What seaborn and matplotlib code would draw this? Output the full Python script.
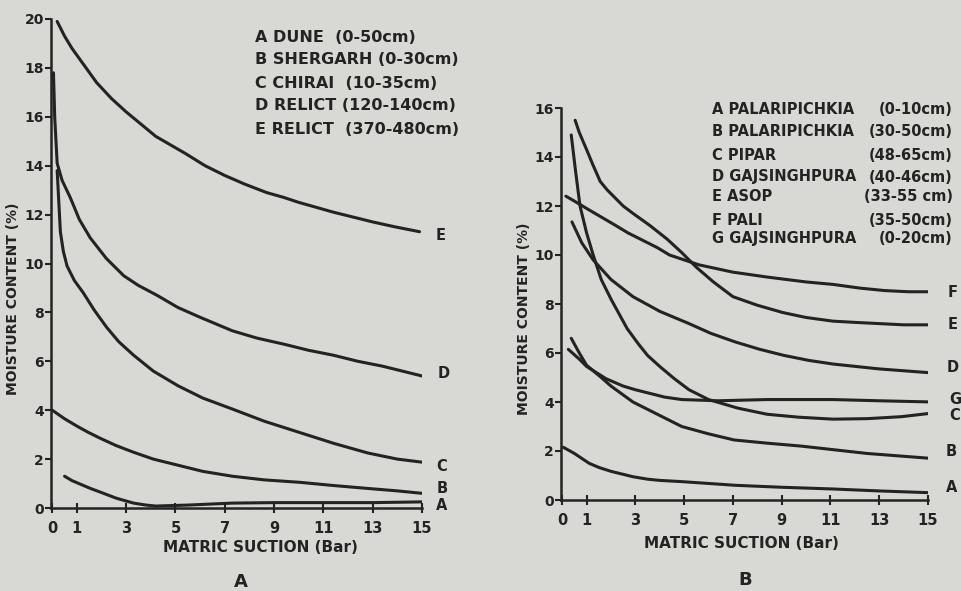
import numpy as np
import pandas as pd
import matplotlib
matplotlib.use("Agg")
import matplotlib.pyplot as plt
import seaborn as sns

# ---------------- data ----------------
# Panel A
A_E_x = [0.2, 0.5, 0.8, 1.3, 1.8, 2.4, 3.0, 3.6, 4.2, 5.4, 6.2, 7.0, 7.8, 8.7, 9.4, 10.0, 11.4, 12.2, 13.0, 13.9, 14.9]
A_E_y = [19.9, 19.3, 18.8, 18.1, 17.4, 16.75, 16.2, 15.7, 15.2, 14.5, 14.0, 13.6, 13.25, 12.9, 12.7, 12.5, 12.1, 11.9, 11.7, 11.5, 11.3]
A_D_x = [0.05, 0.1, 0.2, 0.4, 0.73, 1.1, 1.54, 2.2, 2.9, 3.5, 4.25, 5.1, 6.0, 7.3, 8.3, 9.4, 10.4, 11.4, 12.4, 13.4, 14.2, 15.0]
A_D_y = [17.8, 16.0, 14.1, 13.4, 12.7, 11.8, 11.05, 10.2, 9.5, 9.1, 8.7, 8.2, 7.8, 7.25, 6.95, 6.7, 6.45, 6.25, 6.0, 5.8, 5.6, 5.4]
A_C_x = [0.2, 0.33, 0.45, 0.6, 0.9, 1.26, 1.7, 2.2, 2.7, 3.3, 4.1, 5.1, 6.1, 7.3, 8.6, 10.0, 11.4, 12.8, 14.0, 15.2]
A_C_y = [13.8, 11.3, 10.5, 9.9, 9.3, 8.8, 8.1, 7.4, 6.8, 6.25, 5.6, 5.0, 4.5, 4.05, 3.55, 3.1, 2.65, 2.25, 2.0, 1.85]
A_B_x = [0.0, 0.5, 1.0, 1.45, 1.95, 2.6, 3.3, 4.1, 5.1, 6.1, 7.3, 8.6, 10.05, 11.4, 12.8, 14.0, 15.0]
A_B_y = [4.0, 3.65, 3.35, 3.1, 2.85, 2.55, 2.28, 2.0, 1.75, 1.5, 1.3, 1.15, 1.05, 0.92, 0.8, 0.7, 0.6]
A_A_x = [0.5, 0.8, 1.2, 1.55, 1.95, 2.6, 3.3, 3.8, 4.2, 5.5, 7.3, 9.0, 11.0, 13.0, 15.0]
A_A_y = [1.3, 1.12, 0.95, 0.8, 0.65, 0.4, 0.2, 0.12, 0.08, 0.12, 0.2, 0.22, 0.22, 0.22, 0.25]

# Panel B
B_F_x = [0.15, 0.5, 1.0, 1.6, 2.2, 2.7, 3.3, 3.9, 4.4, 5.0, 5.6, 6.3, 7.0, 7.7, 8.4, 9.2, 10.0, 11.1, 12.2, 13.2, 14.2, 15.2]
B_F_y = [12.4, 12.2, 11.9, 11.55, 11.2, 10.9, 10.6, 10.3, 10.0, 9.8, 9.6, 9.45, 9.3, 9.2, 9.1, 9.0, 8.9, 8.8, 8.65, 8.55, 8.5, 8.5]
B_E_x = [0.53, 0.7, 1.0, 1.25, 1.56, 1.85, 2.2, 2.5, 2.9, 3.6, 4.3, 4.9, 5.5, 6.2, 7.0, 8.0, 9.05, 10.0, 11.1, 12.0, 13.0, 14.0, 15.0]
B_E_y = [15.5, 15.0, 14.3, 13.7, 13.0, 12.65, 12.3, 12.0, 11.7, 11.2, 10.65, 10.1, 9.5, 8.9, 8.3, 7.95, 7.65, 7.45, 7.3, 7.25, 7.2, 7.15, 7.15]
B_D_x = [0.4, 0.8, 1.27, 2.0, 2.9, 4.0, 5.2, 6.1, 7.1, 8.1, 9.1, 10.1, 11.1, 13.0, 15.0]
B_D_y = [11.35, 10.5, 9.8, 9.0, 8.3, 7.7, 7.2, 6.8, 6.45, 6.15, 5.9, 5.7, 5.55, 5.35, 5.2]
B_C_x = [0.37, 0.55, 0.73, 1.0, 1.27, 1.6, 2.0, 2.66, 3.1, 3.5, 4.0, 4.6, 5.2, 6.0, 7.2, 8.4, 9.7, 11.1, 12.5, 13.9, 15.2]
B_C_y = [14.9, 13.4, 12.0, 10.9, 10.0, 9.0, 8.2, 7.0, 6.4, 5.9, 5.45, 4.95, 4.5, 4.1, 3.75, 3.5, 3.38, 3.3, 3.32, 3.4, 3.55]
B_G_x = [0.25, 0.7, 1.0, 1.4, 1.8, 2.5, 3.0, 3.6, 4.2, 4.9, 6.4, 8.4, 11.1, 13.0, 15.2]
B_G_y = [6.15, 5.75, 5.45, 5.2, 4.95, 4.65, 4.5, 4.35, 4.2, 4.1, 4.05, 4.1, 4.1, 4.05, 4.0]
B_B_x = [0.37, 0.7, 1.0, 1.6, 2.0, 2.9, 3.9, 4.9, 6.0, 7.05, 8.4, 9.8, 12.5, 15.1]
B_B_y = [6.6, 6.0, 5.5, 5.0, 4.65, 4.0, 3.5, 3.0, 2.7, 2.45, 2.32, 2.2, 1.9, 1.7]
B_A_x = [0.05, 0.5, 1.1, 1.5, 2.0, 2.9, 3.5, 4.0, 4.9, 7.1, 9.0, 11.1, 13.0, 15.0]
B_A_y = [2.15, 1.9, 1.5, 1.33, 1.17, 0.95, 0.85, 0.8, 0.75, 0.6, 0.52, 0.45, 0.37, 0.3]

x_ticks = [0, 1, 3, 5, 7, 9, 11, 13, 15]
A_yticks = [0, 2, 4, 6, 8, 10, 12, 14, 16, 18, 20]
B_yticks = [0, 2, 4, 6, 8, 10, 12, 14, 16]

A_legend = ["A DUNE  (0-50cm)", "B SHERGARH (0-30cm)", "C CHIRAI  (10-35cm)",
            "D RELICT (120-140cm)", "E RELICT  (370-480cm)"]
B_names = ["A PALARIPICHKIA", "B PALARIPICHKIA", "C PIPAR", "D GAJSINGHPURA",
           "E ASOP", "F PALI", "G GAJSINGHPURA"]
B_ranges = ["(0-10cm)", "(30-50cm)", "(48-65cm)", "(40-46cm)",
            "(33-55 cm)", "(35-50cm)", "(0-20cm)"]

A_curves = {"A": (A_A_x, A_A_y), "B": (A_B_x, A_B_y), "C": (A_C_x, A_C_y),
            "D": (A_D_x, A_D_y), "E": (A_E_x, A_E_y)}
B_curves = {"A": (B_A_x, B_A_y), "B": (B_B_x, B_B_y), "C": (B_C_x, B_C_y),
            "D": (B_D_x, B_D_y), "E": (B_E_x, B_E_y), "F": (B_F_x, B_F_y),
            "G": (B_G_x, B_G_y)}

# end-of-curve label positions (data coords)
A_endlab = {"E": (15.75, 11.15), "D": (15.9, 5.5), "C": (15.8, 1.7),
            "B": (15.8, 0.8), "A": (15.8, 0.12)}
B_endlab = {"F": (16.0, 8.45), "E": (16.0, 7.15), "D": (16.0, 5.4),
            "G": (16.1, 4.1), "C": (16.1, 3.45), "B": (15.95, 1.96),
            "A": (15.95, 0.5)}

# ---------------- style ----------------
sns.set_theme(style="ticks")
BG = "#d8d8d5"
INK = "#232323"
plt.rcParams["font.family"] = ["DejaVu Sans"]
plt.rcParams["font.weight"] = "bold"


def to_df(curves):
    rows = []
    for k, (xs, ys) in curves.items():
        for xv, yv in zip(xs, ys):
            rows.append({"curve": k, "x": xv, "y": yv})
    return pd.DataFrame(rows)


fig = plt.figure(figsize=(9.62, 5.91), dpi=100)
fig.patch.set_facecolor(BG)

axA = fig.add_axes([51 / 962, 83 / 591, 371 / 962, 489 / 591])
axB = fig.add_axes([561 / 962, 91 / 591, 367 / 962, 392 / 591])

for ax, curves, yt, ylim in [(axA, A_curves, A_yticks, 20), (axB, B_curves, B_yticks, 16)]:
    ax.set_facecolor(BG)
    df = to_df(curves)
    sns.lineplot(data=df, x="x", y="y", units="curve", estimator=None, sort=False,
                 color=INK, linewidth=2.2, ax=ax, legend=False)
    for ln in ax.get_lines():
        ln.set_solid_joinstyle("round")
        ln.set_solid_capstyle("round")
    ax.set_xlim(-0.05, 15.0)
    ax.set_ylim(0, ylim)
    ax.set_xticks(x_ticks)
    ax.set_xticklabels([str(t) for t in x_ticks])
    ax.set_yticks(yt)
    ax.set_yticklabels([str(t) for t in yt])
    for s in ["top", "right"]:
        ax.spines[s].set_visible(False)
    for s in ["left", "bottom"]:
        ax.spines[s].set_color(INK)
        ax.spines[s].set_linewidth(1.8)
    ax.tick_params(axis="y", direction="out", length=4, width=1.5, color=INK,
                   labelsize=10, labelcolor=INK, pad=1)
    ax.tick_params(axis="x", direction="inout", length=7, width=1.5, color=INK,
                   labelsize=10.5, labelcolor=INK, pad=6)
    for lab in ax.get_xticklabels() + ax.get_yticklabels():
        lab.set_fontweight("bold")
    ax.set_xlabel("")
    ax.set_ylabel("")

for k, (xv, yv) in A_endlab.items():
    axA.text(xv, yv, k, ha="center", va="center", fontsize=10.5,
             fontweight="bold", color=INK, clip_on=False)
for k, (xv, yv) in B_endlab.items():
    axB.text(xv, yv, k, ha="center", va="center", fontsize=10.5,
             fontweight="bold", color=INK, clip_on=False)

# legends as text blocks
A_leg_y = [37, 60, 84, 106, 129]
for t, yy in zip(A_legend, A_leg_y):
    fig.text(255 / 962, 1 - yy / 591, t, ha="left", va="center", fontsize=11.5,
             fontweight="bold", color=INK)
B_leg_y = [110, 132, 156, 177, 197, 220, 239]
for n, r, yy in zip(B_names, B_ranges, B_leg_y):
    fig.text(712 / 962, 1 - yy / 591, n, ha="left", va="center", fontsize=10.5,
             fontweight="bold", color=INK)
    fig.text(953 / 962, 1 - yy / 591, r, ha="right", va="center", fontsize=10.5,
             fontweight="bold", color=INK)

# axis titles
fig.text(13 / 962, 1 - 299 / 591, "MOISTURE CONTENT (%)", rotation=90,
         ha="center", va="center", fontsize=10, fontweight="bold", color=INK)
fig.text(524 / 962, 1 - 319 / 591, "MOISTURE CONTENT (%)", rotation=90,
         ha="center", va="center", fontsize=10, fontweight="bold", color=INK)
fig.text(260 / 962, 1 - 548 / 591, "MATRIC SUCTION (Bar)", ha="center",
         va="center", fontsize=11, fontweight="bold", color=INK)
fig.text(741 / 962, 1 - 543 / 591, "MATRIC SUCTION (Bar)", ha="center",
         va="center", fontsize=11, fontweight="bold", color=INK)

# panel letters
fig.text(241 / 962, 1 - 582 / 591, "A", ha="center", va="center", fontsize=13,
         fontweight="bold", color=INK)
fig.text(745 / 962, 1 - 580 / 591, "B", ha="center", va="center", fontsize=13,
         fontweight="bold", color=INK)

fig.savefig("out.png", dpi=100, facecolor=BG)
